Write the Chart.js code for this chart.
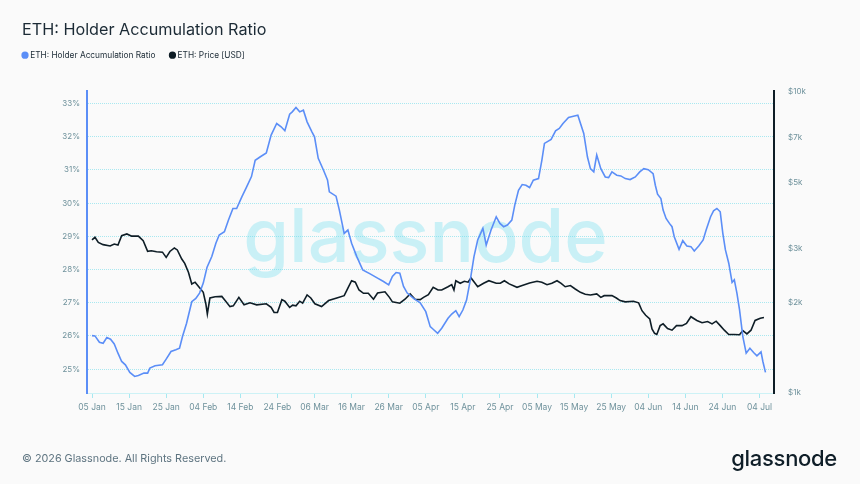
<!DOCTYPE html>
<html>
<head>
<meta charset="utf-8">
<script src="https://cdn.jsdelivr.net/npm/chart.js@4.4.1/dist/chart.umd.min.js"></script>
<style>
  html, body { margin: 0; padding: 0; background: #fafafa; }
  #wrap { position: relative; width: 860px; height: 484px; overflow: hidden; font-family: Inter, 'Noto Sans', sans-serif; }
  #title { position: absolute; left: 22px; top: 19px; font-size: 16.2px; line-height: 20px; color: #1b2a35; }
  #footer { position: absolute; left: 22px; top: 451px; font-size: 10.8px; line-height: 16px; color: #5e7480; }
  #logo { position: absolute; right: 23px; top: 445px; font-size: 22px; line-height: 26px; font-weight: 500; color: #0f1e28; letter-spacing: -0.3px; }
  canvas { position: absolute; left: 0; top: 0; }
</style>
</head>
<body>
<div id="wrap">
  <canvas id="chart" width="860" height="484"></canvas>
  <div id="title">ETH: Holder Accumulation Ratio</div>
  <div id="footer">© 2026 Glassnode. All Rights Reserved.</div>
  <div id="logo">glassnode</div>
</div>
<script>
// x is days since 05 Jan, one tick label every 10 days
const xTickLabels = ['05 Jan', '15 Jan', '25 Jan', '04 Feb', '14 Feb', '24 Feb', '06 Mar', '16 Mar', '26 Mar',
  '05 Apr', '15 Apr', '25 Apr', '05 May', '15 May', '25 May', '04 Jun', '14 Jun', '24 Jun', '04 Jul'];

const ratioDays = [0, 0.8, 2, 3, 4, 5, 6, 7, 8, 9, 10.2, 11.5, 12.5, 14, 15, 15.6, 17, 19, 20, 21.3, 22.6, 23.6, 24.4,
  25.5, 26.9, 28, 29, 30, 31, 32.3, 33.4, 34.3, 35.7, 36.8, 38, 39, 40.4, 41.7, 43, 44, 45.3, 47, 48.3, 49.8, 51, 52,
  53.3, 54, 55, 56, 57, 58, 59.3, 60, 61, 62.4, 63.5, 64, 65.8, 66.7, 68, 69, 70, 71.4, 73, 75, 77, 78.6, 80, 81, 82,
  83, 84, 85, 86.7, 88.5, 90, 91.2, 92, 93.2, 94.3, 96, 97, 98.1, 99, 100, 101, 102, 103, 104, 105.4, 106.3, 107.6,
  109, 110, 111, 112, 113.2, 114, 115, 116, 117, 118, 119, 120.4, 121.3, 122, 123.8, 125, 126, 127, 128.5, 129.8, 131,
  132.6, 133.6, 134.4, 135.3, 136.1, 137.2, 138.4, 139.3, 140.2, 141.5, 142.6, 143.8, 145.1, 146.5, 147.7, 148.8, 150,
  151.3, 151.9, 152.5, 153.4, 154, 154.8, 155.7, 156.4, 157, 158.3, 159.3, 160.4, 161.5, 162.4, 163.6, 164.8, 165.6,
  166.8, 167.6, 168.5, 169.4, 170.1, 170.8, 171.7, 172.6, 173.2, 173.9, 174.6, 175.5, 176.4, 177.4, 178.4, 179.3,
  180.4, 180.9, 181.6];
const ratioValues = [26.01, 26.0, 25.81, 25.78, 25.95, 25.9, 25.76, 25.48, 25.23, 25.13, 24.9, 24.78, 24.81, 24.88,
  24.88, 25.03, 25.1, 25.13, 25.3, 25.53, 25.58, 25.63, 25.98, 26.38, 27.03, 27.13, 27.29, 27.59, 28.06, 28.39, 28.79,
  29.04, 29.14, 29.49, 29.84, 29.84, 30.19, 30.49, 30.8, 31.29, 31.39, 31.51, 32.05, 32.4, 32.3, 32.18, 32.68, 32.75,
  32.88, 32.75, 32.8, 32.45, 32.15, 32.0, 31.35, 31.0, 30.7, 30.34, 30.21, 29.79, 29.09, 29.19, 28.79, 28.39, 27.99,
  27.87, 27.74, 27.64, 27.54, 27.79, 27.91, 27.89, 27.49, 27.29, 27.13, 27.0, 26.73, 26.28, 26.2, 26.08, 26.23, 26.53,
  26.66, 26.76, 26.58, 26.78, 27.08, 27.68, 28.39, 28.89, 29.24, 28.74, 29.19, 29.59, 29.39, 29.29, 29.34, 29.49, 29.94,
  30.39, 30.56, 30.54, 30.47, 30.69, 30.74, 31.29, 31.8, 31.92, 32.18, 32.25, 32.4, 32.58, 32.62, 32.65, 32.1, 31.39,
  31.04, 30.94, 31.45, 31.04, 30.79, 30.77, 30.94, 30.84, 30.82, 30.74, 30.71, 30.79, 30.94, 31.04, 31.01, 30.89, 30.54,
  30.27, 30.14, 29.79, 29.54, 29.39, 29.29, 28.99, 28.61, 28.87, 28.71, 28.69, 28.56, 28.71, 28.89, 29.19, 29.59, 29.77,
  29.84, 29.74, 29.09, 28.59, 28.19, 27.61, 27.69, 27.29, 26.79, 25.98, 25.48, 25.63, 25.5, 25.4, 25.52, 25.23, 24.9];

const priceDays = [0, 0.8, 1.7, 3, 4.9, 6, 7, 8, 9.4, 10.7, 12.5, 13.8, 15, 16, 17.4, 19, 20, 21, 22.2, 23, 24.2, 25, 26,
  26.9, 27.8, 28.9, 30, 30.7, 31.1, 31.8, 33.2, 35, 35.9, 37.2, 38.1, 39.6, 41, 42.6, 44.4, 47, 48.3, 49.1, 50, 51.2,
  52, 53.3, 54.1, 55, 56, 56.8, 58, 59, 60.1, 61.9, 63.8, 66, 68, 69.1, 70, 71, 72, 73.2, 74.5, 75.9, 77, 79, 80.2, 81,
  83, 84.4, 85.8, 87.1, 88.5, 89.4, 90.7, 92, 93.3, 94.3, 96, 97, 97.6, 98.1, 99.3, 100.4, 101.4, 102.2, 103.3, 104,
  105.6, 107, 109, 110.1, 111.2, 112.5, 114.6, 116, 118, 120, 121.3, 122.7, 124, 125.4, 126.5, 127.6, 129, 130.3, 131.7,
  133, 134.4, 136.1, 137.2, 138.1, 140.2, 141.4, 142.4, 143.8, 146, 147.4, 148.3, 149.3, 150.4, 151, 151.7, 152.3,
  153.2, 154, 155.2, 156.4, 157.6, 159.1, 160.3, 161.5, 163.1, 164.5, 166, 167.2, 168.3, 169.4, 170.5, 171.7, 173.2,
  174.6, 175.5, 176.6, 177.7, 178.8, 180.2, 181.2];
const priceValues = [3216, 3281, 3157, 3103, 3071, 3118, 3095, 3323, 3367, 3310, 3310, 3198, 2948, 2960, 2940, 2930,
  2816, 2945, 3025, 2980, 2780, 2690, 2512, 2298, 2330, 2240, 2156, 1973, 1828, 2065, 2085, 2090, 2025, 1933, 1945,
  2075, 1960, 1990, 1960, 1975, 1922, 1849, 1849, 2039, 2015, 1922, 1955, 1945, 2015, 1985, 2113, 2065, 1975, 1935,
  2025, 2065, 2102, 2240, 2356, 2330, 2195, 2140, 2140, 2045, 2145, 2165, 2075, 2005, 1985, 2045, 2130, 2045, 2040,
  2075, 2118, 2240, 2195, 2195, 2250, 2286, 2195, 2356, 2310, 2345, 2330, 2406, 2310, 2250, 2310, 2356, 2310, 2310,
  2356, 2300, 2240, 2270, 2316, 2345, 2330, 2286, 2310, 2356, 2310, 2250, 2270, 2212, 2156, 2125, 2113, 2130, 2075,
  2102, 2102, 2065, 2025, 2005, 2015, 1990, 1874, 1810, 1759, 1630, 1577, 1563, 1672, 1695, 1635, 1615, 1672, 1672,
  1700, 1790, 1740, 1710, 1725, 1695, 1730, 1672, 1615, 1563, 1563, 1560, 1610, 1570, 1615, 1740, 1770, 1780];

const ratioTicks = [25, 26, 27, 28, 29, 30, 31, 32, 33];
const priceTicks = [1000, 2000, 3000, 5000, 7000, 10000];

const blue = '#5b8ef7';
const dark = '#0e1d26';
const labelColor = '#6f929c';
const gridColor = '#a8e8f0';

// pushes the plot down below the legend
const legendGap = {
  id: 'legendGap',
  beforeInit(chart) {
    const fit = chart.legend.fit;
    chart.legend.fit = function () {
      fit.bind(chart.legend)();
      this.height += 22;
    };
  }
};

// faint brand text behind the lines
const watermark = {
  id: 'watermark',
  beforeDatasetsDraw(chart) {
    const { ctx, chartArea } = chart;
    ctx.save();
    ctx.font = '500 74px Inter';
    ctx.fillStyle = 'rgba(100, 222, 240, 0.32)';
    ctx.textAlign = 'center';
    ctx.textBaseline = 'alphabetic';
    ctx.fillText('glassnode', (chartArea.left + chartArea.right) / 2 - 5, (chartArea.top + chartArea.bottom) / 2 + 20);
    ctx.restore();
  }
};

const ctx = document.getElementById('chart').getContext('2d');

new Chart(ctx, {
  type: 'line',
  data: {
    datasets: [{
      label: 'ETH: Holder Accumulation Ratio',
      data: ratioDays.map((d, i) => ({ x: d, y: ratioValues[i] })),
      yAxisID: 'yRatio',
      borderColor: blue,
      backgroundColor: blue,
      borderWidth: 1.6,
      pointRadius: 0,
      tension: 0
    }, {
      label: 'ETH: Price [USD]',
      data: priceDays.map((d, i) => ({ x: d, y: priceValues[i] })),
      yAxisID: 'yPrice',
      borderColor: dark,
      backgroundColor: dark,
      borderWidth: 1.6,
      pointRadius: 0,
      tension: 0
    }]
  },
  options: {
    animation: false,
    responsive: false,
    layout: { padding: { left: 8, right: 0, top: 35, bottom: 0 } },
    plugins: {
      legend: {
        align: 'start',
        labels: {
          usePointStyle: true,
          pointStyle: 'circle',
          boxWidth: 2,
          boxHeight: 4,
          padding: 16,
          color: '#1b2a35',
          font: { family: 'Inter', size: 8.3 }
        }
      },
      tooltip: { enabled: false }
    },
    scales: {
      x: {
        type: 'linear',
        min: -1.35,
        max: 183.9,
        afterFit: s => { s.height = 91; },
        afterBuildTicks: s => { s.ticks = xTickLabels.map((_, i) => ({ value: i * 10 })); },
        ticks: {
          callback: v => xTickLabels[Math.round(v / 10)],
          color: labelColor,
          font: { family: 'Inter', size: 8.5 },
          maxRotation: 0,
          autoSkip: false,
          padding: 4
        },
        grid: { drawOnChartArea: false, color: gridColor, tickLength: 5 },
        border: { color: '#cdf2f6' }
      },
      yRatio: {
        position: 'left',
        min: 24.28,
        max: 33.37,
        afterFit: s => { s.width = 79; },
        afterBuildTicks: s => { s.ticks = ratioTicks.map(v => ({ value: v })); },
        ticks: {
          callback: v => v + '%',
          color: labelColor,
          font: { family: 'Inter', size: 8 },
          padding: 7
        },
        grid: { color: gridColor, drawTicks: false },
        border: { color: blue, width: 2, dash: [1, 1] }
      },
      yPrice: {
        type: 'logarithmic',
        position: 'right',
        min: 1000,
        max: 10000,
        afterFit: s => { s.width = 86; },
        afterBuildTicks: s => { s.ticks = priceTicks.map(v => ({ value: v })); },
        ticks: {
          callback: v => '$' + (v / 1000) + 'k',
          color: labelColor,
          font: { family: 'Inter', size: 8 },
          padding: 6
        },
        grid: { display: false },
        border: { color: dark, width: 2 }
      }
    }
  },
  plugins: [legendGap, watermark]
});
</script>
</body>
</html>
